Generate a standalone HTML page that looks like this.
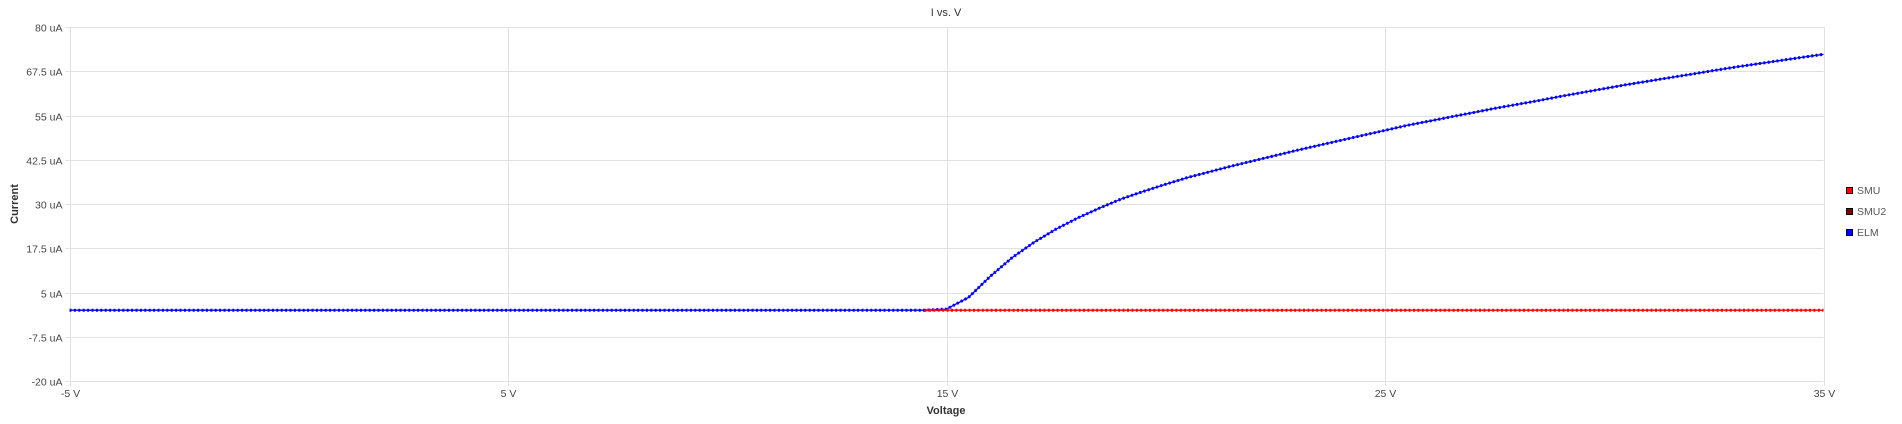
<!DOCTYPE html>
<html><head><meta charset="utf-8"><style>
html,body{margin:0;padding:0;background:#fff;}
svg{display:block;font-family:"Liberation Sans",sans-serif;}
</style></head><body>
<svg id="chart" width="1902" height="424" xmlns="http://www.w3.org/2000/svg">
<text x="946" y="16" font-size="11" fill="#333" text-anchor="middle">I vs. V</text>
<g id="grid"></g>
<g id="series"></g>
<text x="946" y="414" font-size="11" font-weight="bold" fill="#333" text-anchor="middle">Voltage</text>
<text x="18" y="204" font-size="11" font-weight="bold" fill="#333" text-anchor="middle" transform="rotate(-90 18 204)">Current</text>
<g>
<g><rect x="1846.5" y="187.5" width="6" height="6" fill="#ff0000" stroke="#000"/><text x="1857" y="194" font-size="10.5" fill="#555">SMU</text></g>
<g><rect x="1846.5" y="208.5" width="6" height="6" fill="#800000" stroke="#000"/><text x="1857" y="215" font-size="10.5" fill="#555">SMU2</text></g>
<g><rect x="1846.5" y="229.5" width="6" height="6" fill="#0000ff" stroke="#000"/><text x="1857" y="236" font-size="10.5" fill="#555">ELM</text></g>
</g>
</svg>
<script>
const xTicks=[-5,5,15,25,35];
const xTickLabels=["-5 V","5 V","15 V","25 V","35 V"];
const yTicks=[80,67.5,55,42.5,30,17.5,5,-7.5,-20];
const yTickLabels=["80 uA","67.5 uA","55 uA","42.5 uA","30 uA","17.5 uA","5 uA","-7.5 uA","-20 uA"];
const voltages=[];for(let i=0;i<=80;i++)voltages.push(-5+i*0.5);
const elmValues=[0,0,0,0,0,0,0,0,0,0,0,0,0,0,0,0,0,0,0,0,0,0,0,0,0,0,0,0,0,0,0,0,0,0,0,0,0,0,0,0,
0.3,3.6,9.6,14.9,19.2,22.9,26.1,28.9,31.5,33.6,35.6,37.5,39.1,40.7,42.2,43.7,45.2,46.6,48.0,49.4,50.8,52.2,53.4,54.6,55.8,57.0,58.1,59.2,60.4,61.5,62.6,63.7,64.7,65.7,66.7,67.7,68.7,69.6,70.5,71.4,72.3,73.2];
const smuValues=[null,null,null,null,null,null,null,null,null,null,null,null,null,null,null,null,null,null,null,null,null,null,null,null,null,null,null,null,null,null,null,null,null,null,null,null,null,null,null,0,
0,0,0,0,0,0,0,0,0,0,0,0,0,0,0,0,0,0,0,0,0,0,0,0,0,0,0,0,0,0,0,0,0,0,0,0,0,0,0,0,0];
const X0=69.5,X1=1823.5,Y0=381,Y1=27;
const xs=v=>X0+(v+5)/40*(X1-X0);
const ys=v=>Y0-(v+20)/100*(Y0-Y1);
const NS="http://www.w3.org/2000/svg";
const grid=document.getElementById('grid'),ser=document.getElementById('series');
function mk(tag,attrs,parent){const e=document.createElementNS(NS,tag);for(const k in attrs)e.setAttribute(k,attrs[k]);parent.appendChild(e);return e;}
yTicks.forEach((t,i)=>{const y=Math.round(ys(t))+0.5;
 const l=mk('line',{x1:X0-4,x2:X1,y1:y,y2:y,stroke:'#e0e0e0','stroke-width':1},grid);
 
 
 const tx=mk('text',{x:X0-7,y:y+4,'font-size':10.5,fill:'#444','text-anchor':'end'},grid);tx.textContent=yTickLabels[i];
 
 
});
xTicks.forEach((t,i)=>{const x=Math.round(xs(t))+0.5;
 const l=mk('line',{x1:x,x2:x,y1:Y1,y2:Y0+5,stroke:'#e0e0e0','stroke-width':1},grid);
 
 
 const tx=mk('text',{x:x,y:397,'font-size':10.5,fill:'#444','text-anchor':'middle'},grid);tx.textContent=xTickLabels[i];
 
 
});
function draw(vals,color,name){let d='';let started=false;
 vals.forEach((v,i)=>{if(v===null){started=false;return;}d+=(started?'L':'M')+xs(voltages[i]).toFixed(1)+' '+ys(v).toFixed(1);started=true;});
 const p=mk('path',{d:d,fill:'none',stroke:color,'stroke-width':1.3,'stroke-linejoin':'round'},ser);
 
 
 const m=mk('path',{d:d,fill:'none',stroke:color,'stroke-width':3,'stroke-dasharray':'2 2.4'},ser);
 
 
}
draw(elmValues,'#0000ff','elm-series');
draw(smuValues,'#ff0000','smu-series');
</script>
</body></html>
